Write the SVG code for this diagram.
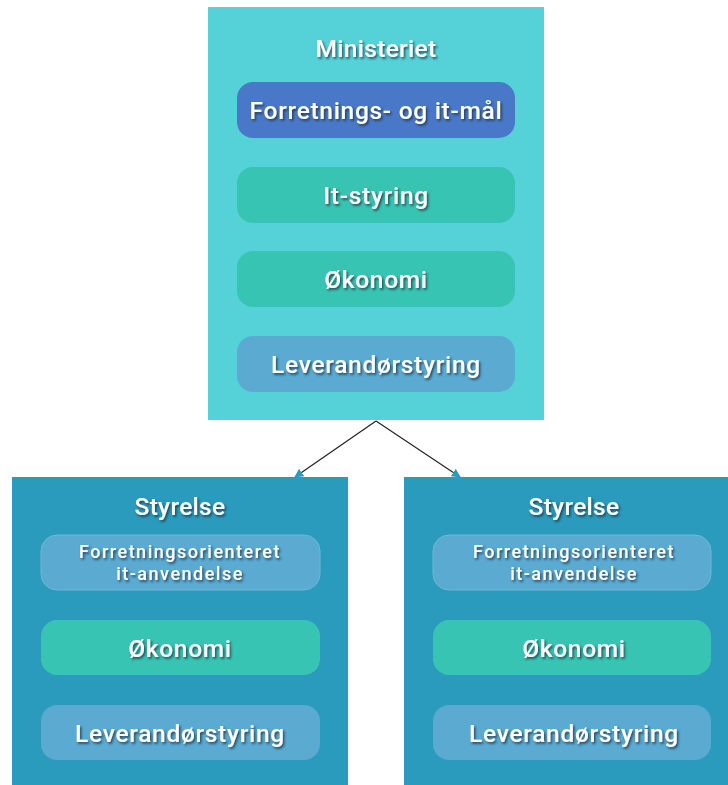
<svg xmlns="http://www.w3.org/2000/svg" width="728" height="785" viewBox="0 0 728 785">
<defs>
<filter id="ts" x="-10%" y="-30%" width="120%" height="160%">
<feDropShadow dx="1.5" dy="1.8" stdDeviation="0.9" flood-color="#16323f" flood-opacity="0.8"/>
</filter>
<marker id="ah" viewBox="0 0 10 10" refX="9" refY="5" markerWidth="9" markerHeight="9" markerUnits="userSpaceOnUse" orient="auto">
<path d="M0,0 L10,5 L0,10 z" fill="#2a9bc0"/>
</marker>
</defs>
<style>
text{font-family:Roboto,"Liberation Sans",sans-serif;font-weight:500;fill:#ffffff;text-anchor:middle;filter:url(#ts)}
.t{font-size:24.5px;letter-spacing:0.3px}
.p{font-size:24.5px;letter-spacing:0.7px}
.s{font-size:18px;letter-spacing:1.5px}
.blue{fill:#4a78c8}
.green{fill:#38c4b2}
.lb{fill:#5aaad2}
</style>
<rect width="728" height="785" fill="#ffffff"/>
<g id="ministeriet">
<rect x="208" y="7" width="336" height="413" fill="#55d2d8"/>
<text class="t" x="376" y="57">Ministeriet</text>
</g>
<g id="forretnings-maal">
<rect class="blue" x="237" y="82" width="278" height="56" rx="16"/>
<text class="p" x="376" y="119">Forretnings- og it-mål</text>
</g>
<g id="it-styring">
<rect class="green" x="237" y="167" width="278" height="56" rx="16"/>
<text class="p" x="376" y="204">It-styring</text>
</g>
<g id="okonomi-m">
<rect class="green" x="237" y="251" width="278" height="56" rx="16"/>
<text class="p" x="376" y="288">Økonomi</text>
</g>
<g id="leverandor-m">
<rect class="lb" x="237" y="336" width="278" height="56" rx="16"/>
<text class="p" x="376" y="373">Leverandørstyring</text>
</g>
<g id="connectors" stroke="#222" stroke-width="1.2" fill="none">
<line x1="376" y1="421" x2="295" y2="477" marker-end="url(#ah)"/>
<line x1="376" y1="421" x2="460" y2="477" marker-end="url(#ah)"/>
</g>
<g id="styrelse-left">
<rect x="12" y="477" width="336" height="308" fill="#2a9bbd"/>
<text class="t" x="180" y="515">Styrelse</text>
</g>
<g id="fit-left">
<rect class="lb" x="41" y="535" width="279" height="55" rx="16" stroke="#6cb8da" stroke-width="1"/>
<text class="s" x="180" y="558">Forretningsorienteret</text>
<text class="s" x="180" y="580">it-anvendelse</text>
</g>
<g id="okonomi-left">
<rect class="green" x="41" y="620" width="279" height="55" rx="16"/>
<text class="p" x="180" y="657">Økonomi</text>
</g>
<g id="leverandor-left">
<rect class="lb" x="41" y="705" width="279" height="55" rx="16"/>
<text class="p" x="180" y="742">Leverandørstyring</text>
</g>
<g id="styrelse-right">
<rect x="404" y="477" width="324" height="308" fill="#2a9bbd"/>
<text class="t" x="574" y="515">Styrelse</text>
</g>
<g id="fit-right">
<rect class="lb" x="433" y="535" width="278" height="55" rx="16" stroke="#6cb8da" stroke-width="1"/>
<text class="s" x="574" y="558">Forretningsorienteret</text>
<text class="s" x="574" y="580">it-anvendelse</text>
</g>
<g id="okonomi-right">
<rect class="green" x="433" y="620" width="278" height="55" rx="16"/>
<text class="p" x="574" y="657">Økonomi</text>
</g>
<g id="leverandor-right">
<rect class="lb" x="433" y="705" width="278" height="55" rx="16"/>
<text class="p" x="574" y="742">Leverandørstyring</text>
</g>
</svg>
